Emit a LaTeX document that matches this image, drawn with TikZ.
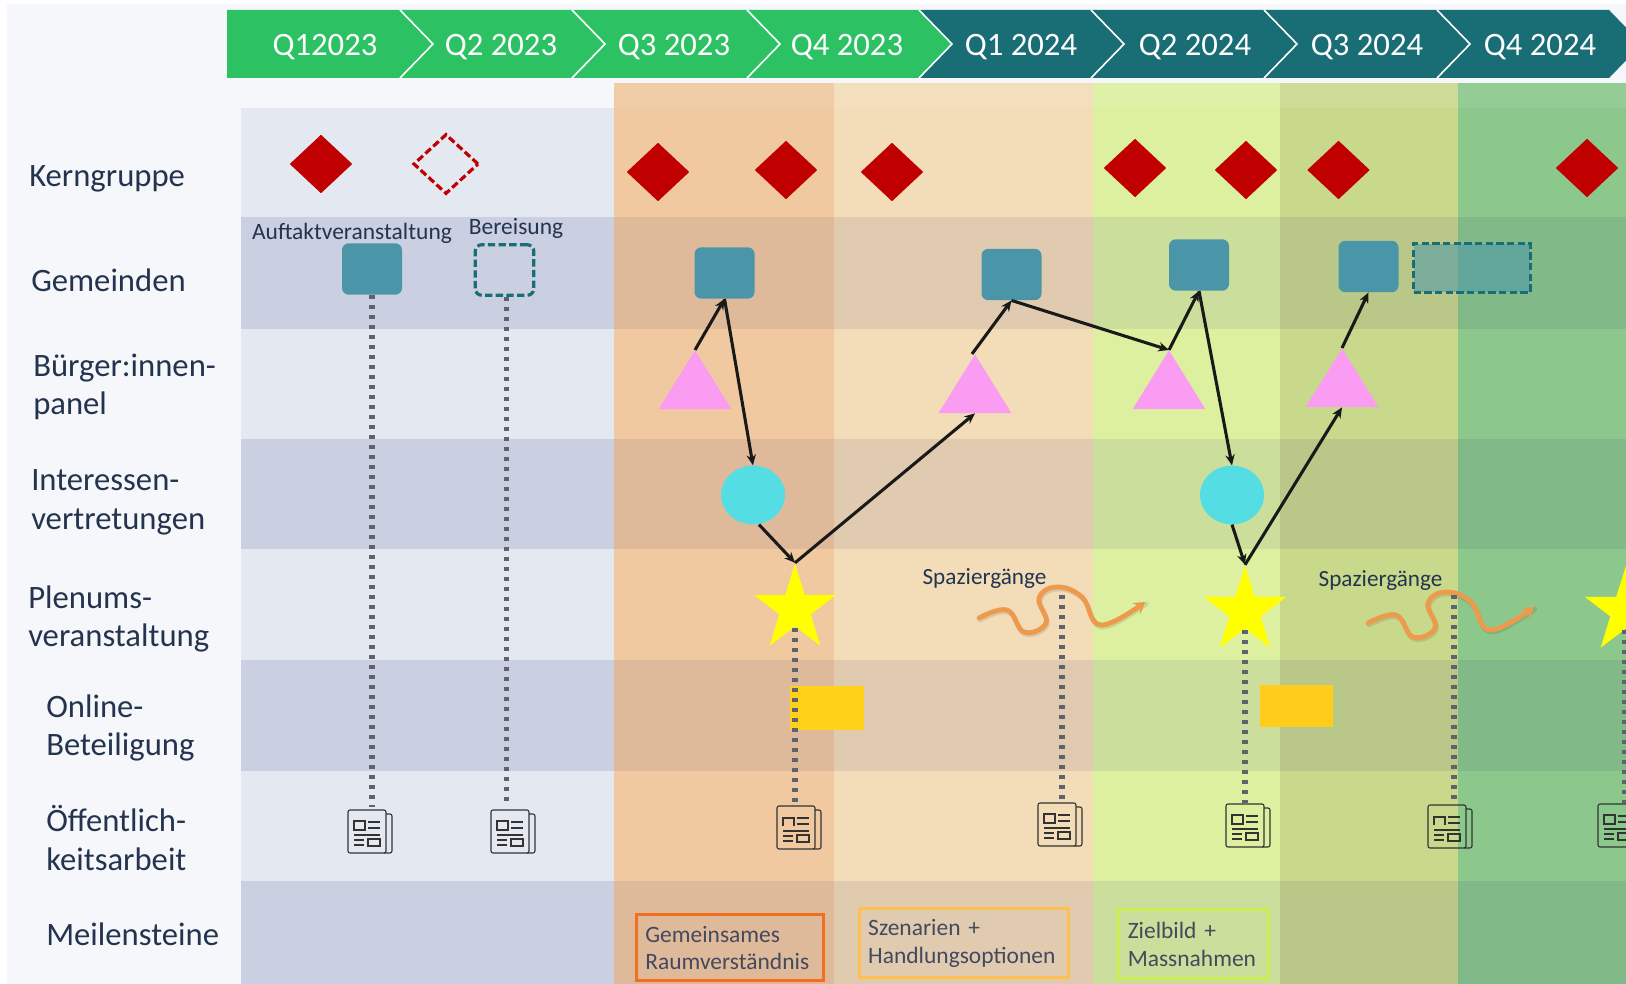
\documentclass[tikz,border=0pt]{standalone}
\usepackage{fontspec}
\setmainfont{Carlito}
\usetikzlibrary{shapes.geometric,arrows.meta}
\definecolor{outerbg}{HTML}{F5F7FA}
\definecolor{rowlight}{HTML}{E4E8F1}
\definecolor{rowdark}{HTML}{CBCFE2}
\definecolor{colA}{HTML}{F0C9A0}
\definecolor{colB}{HTML}{F3DCB8}
\definecolor{colC}{HTML}{DDF0A0}
\definecolor{colD}{HTML}{C8D98C}
\definecolor{colE}{HTML}{8CC88C}
\definecolor{chevgreen}{HTML}{2CC264}
\definecolor{chevteal}{HTML}{196D74}
\definecolor{kernred}{HTML}{C00000}
\definecolor{sqteal}{HTML}{4A96A8}
\definecolor{pinkt}{HTML}{F99CF2}
\definecolor{cyanc}{HTML}{55DDE4}
\definecolor{walkor}{HTML}{EE9A4D}
\definecolor{ink}{HTML}{24344F}
\definecolor{msink}{HTML}{45495E}
\definecolor{staryel}{HTML}{FFFF00}
\definecolor{dotgrey}{HTML}{5E626C}
\tikzset{
  x=0.75pt,y=-0.75pt,
  chevlabel/.style={text=white,font=\fontsize{24.5}{29}\selectfont,inner sep=0},
  rowlabel/.style={anchor=west,align=left,text=ink,font=\fontsize{24.5}{29}\selectfont,inner sep=0},
  smalllabel/.style={text=ink,font=\fontsize{17.6}{21}\selectfont,inner sep=0},
  walklabel/.style={text=ink,font=\fontsize{17.4}{21}\selectfont,inner sep=0},
  kern/.style={diamond,aspect=1,fill=kernred,inner sep=0,minimum width=47pt,minimum height=44pt},
  kerndash/.style={diamond,aspect=1,draw=kernred,line width=2.4pt,dash pattern=on 5.5pt off 2.5pt,inner sep=0,minimum width=49pt,minimum height=45pt},
  gem/.style={rectangle,rounded corners=5pt,fill=sqteal,inner sep=0,minimum width=45pt,minimum height=38.5pt},
  gemdash/.style={rectangle,rounded corners=5pt,draw=chevteal,line width=2.4pt,dash pattern=on 5.5pt off 2.5pt,inner sep=0,minimum width=44pt,minimum height=38pt},
  bar/.style={rectangle,draw=chevteal,fill=sqteal,fill opacity=.55,line width=2.4pt,dash pattern=on 5.5pt off 2.5pt,inner sep=0,minimum width=87.5pt,minimum height=36.5pt},
  panel/.style={regular polygon,regular polygon sides=3,fill=pinkt,inner sep=0,minimum size=63pt,anchor=corner 1,transform shape,yscale=.93},
  intr/.style={ellipse,fill=cyanc,inner sep=0,minimum width=48pt,minimum height=44pt},
  plen/.style={star,star points=5,star point ratio=2.6,fill=staryel,inner sep=0,minimum size=68pt,transform shape,xscale=.95},
  online/.style={rectangle,inner sep=0,anchor=north west},
  docbox/.style={rectangle,inner sep=0,minimum width=33pt,minimum height=32pt,anchor=north west},
  stone/.style={rectangle,anchor=north west,align=left,text=msink,line width=2.6pt,inner xsep=0,inner ysep=0,font=\fontsize{17.6}{21}\selectfont},
  flow/.style={-{Stealth[length=8pt,width=7pt]},line width=2.3pt,draw=black!90},
  dots/.style={draw=dotgrey,line width=3.8pt,dash pattern=on 3.2pt off 4.3pt},
  walk/.style={draw=walkor,line width=3.6pt,line cap=round,-{Stealth[length=8pt,width=10pt]}},
  walkshade/.style={draw=black,opacity=.1,line width=3.6pt,line cap=round},
  newsink/.style={draw=black!80,line width=.8pt},
  newsbase/.pic={
    \draw[newsink,rounded corners=1.5pt] (0,0) rectangle (38,43);
    \draw[newsink,rounded corners=1.5pt] (38,4) -- (44,4) -- (44,43) -- (36,43);
    \draw[newsink] (6,25) -- (32,25) (6,30) -- (16,30) (6,35) -- (16,35);
    \draw[newsink] (20,29) rectangle (32,36);
    \draw[newsink] (20,12) -- (32,12) (20,18) -- (32,18);
  },
  newsA/.pic={
    \pic {newsbase};
    \draw[newsink] (6,11) rectangle (17,20);
  },
  newsB/.pic={
    \pic {newsbase};
    \draw[newsink] (6,20) -- (6,12) -- (17,12) -- (17,20);
  }
}
\begin{document}
\begin{tikzpicture}
\useasboundingbox (0,0) rectangle (1626,984);
\clip (0,0) rectangle (1626,984);
\fill[outerbg] (7,4) rectangle (1626,984);
% rows, left part
\fill[rowlight] (241,108) rectangle (614,217);
\fill[rowdark]  (241,217) rectangle (614,329);
\fill[rowlight] (241,329) rectangle (614,439);
\fill[rowdark]  (241,439) rectangle (614,549);
\fill[rowlight] (241,549) rectangle (614,660);
\fill[rowdark]  (241,660) rectangle (614,771);
\fill[rowlight] (241,771) rectangle (614,881);
\fill[rowdark]  (241,881) rectangle (614,984);
% phase columns
\fill[colA] (614,83) rectangle (834,984);
\fill[colB] (834,83) rectangle (1093,984);
\fill[colC] (1093,83) rectangle (1280,984);
\fill[colD] (1280,83) rectangle (1458,984);
\fill[colE] (1458,83) rectangle (1626,984);
\fill[white,opacity=.08] (614,83) rectangle (1626,108);
\foreach \ya/\yb in {217/329,439/549,660/771,881/984}{
  \fill[black!60!blue,opacity=.075] (614,\ya) rectangle (1626,\yb);
}
% chevrons
\fill[chevteal] (919,10) -- (1609,10) -- (1642,44) -- (1609,78) -- (919,78) -- cycle;
\fill[chevgreen] (227,10) -- (919,10) -- (952,44) -- (919,78) -- (227,78) -- cycle;
\foreach \xc in {400,572,747,919,1091,1264,1437}{
  \draw[white,line width=1.2pt] (\xc,10) -- ({\xc+33},44) -- (\xc,78);
}
\node[chevlabel] (q1) at (325,47) {Q12023};
\node[chevlabel] (q2) at (501,47) {Q2 2023};
\node[chevlabel] (q3) at (674,47) {Q3 2023};
\node[chevlabel] (q4) at (847,47) {Q4 2023};
\node[chevlabel] (q5) at (1021,47) {Q1 2024};
\node[chevlabel] (q6) at (1195,47) {Q2 2024};
\node[chevlabel] (q7) at (1367,47) {Q3 2024};
\node[chevlabel] (q8) at (1540,47) {Q4 2024};
% row labels
\node[rowlabel] (l1) at (29,179) {Kerngruppe};
\node[rowlabel] (l2) at (31,280) {Gemeinden};
\node[rowlabel] (l3) at (33,387) {Bürger:innen-\\panel};
\node[rowlabel] (l4) at (31,502) {Interessen-\\vertretungen};
\node[rowlabel] (l5) at (28,619) {Plenums-\\veranstaltung};
\node[rowlabel] (l6) at (46,728) {Online-\\Beteiligung};
\node[rowlabel] (l7) at (46,838) {Öffentlich-\\keitsarbeit};
\node[rowlabel] (l8) at (46,934) {Meilensteine};
% Kerngruppe
\node[kern] (k1) at (321,164) {};
\node[kerndash] (k2) at (446,164) {};
\node[kern] (k3) at (658,172) {};
\node[kern] (k4) at (786,170) {};
\node[kern] (k5) at (892,172) {};
\node[kern] (k6) at (1135,168) {};
\node[kern] (k7) at (1246,170) {};
\node[kern] (k8) at (1338.5,170) {};
\node[kern] (k9) at (1587,168) {};
% Gemeinden
\node[smalllabel] (a1) at (352,233) {Auftaktveranstaltung};
\node[smalllabel] (a2) at (516,228) {Bereisung};
\node[gem] (s1) at (372,269) {};
\node[gemdash] (s2) at (504.5,270) {};
\node[gem] (s3) at (724.5,273) {};
\node[gem] (s4) at (1011.5,274.5) {};
\node[gem] (s5) at (1199,265) {};
\node[gem] (s6) at (1368.5,266.5) {};
\node[bar] (s7) at (1472,268) {};
% panel
\node[panel] (t1) at (695,350) {};
\node[panel] (t2) at (975,354) {};
\node[panel] (t3) at (1169,350) {};
\node[panel] (t4) at (1342,348) {};
% Interessen
\node[intr] (c1) at (753,495) {};
\node[intr] (c2) at (1232,495) {};
% stars
\node[plen] (p1) at (795,609) {};
\node[plen] (p2) at (1245,611) {};
\node[plen] (p3) at (1626,611) {};
% walks
\begin{scope}[shift={(1,2)}]
\draw[walkshade] plot[smooth,tension=.7] coordinates {(979,618) (1007,610) (1024,632) (1046,623) (1039,598) (1057,587) (1082,597) (1101,625) (1145,602)};
\draw[walkshade] plot[smooth,tension=.7] coordinates {(1368,623) (1396,615) (1413,637) (1435,628) (1428,603) (1446,592) (1471,602) (1490,630) (1534,607)};
\end{scope}
\draw[walk] plot[smooth,tension=.7] coordinates {(979,618) (1007,610) (1024,632) (1046,623) (1039,598) (1057,587) (1082,597) (1101,625) (1145,602)};
\draw[walk] plot[smooth,tension=.7] coordinates {(1368,623) (1396,615) (1413,637) (1435,628) (1428,603) (1446,592) (1471,602) (1490,630) (1534,607)};
\node[walklabel] (w1) at (984.5,579) {Spaziergänge};
\node[walklabel] (w2) at (1380.5,581) {Spaziergänge};
% online
\node[online,fill={rgb,255:red,255;green,210;blue,26},minimum width=55.5pt,minimum height=33pt] (o1) at (790,686) {};
\node[online,fill={rgb,255:red,255;green,205;blue,26},minimum width=54.75pt,minimum height=31.5pt] (o2) at (1260,685) {};
% documents
\node[docbox] (d1) at (348,810) {};
\node[docbox] (d2) at (491,810) {};
\node[docbox] (d3) at (777,806) {};
\node[docbox] (d4) at (1038,803) {};
\node[docbox] (d5) at (1226,804) {};
\node[docbox] (d6) at (1428,805) {};
\node[docbox] (d7) at (1598,804) {};
\pic at (d1.north west) {newsA};
\pic at (d2.north west) {newsA};
\pic at (d3.north west) {newsB};
\pic at (d4.north west) {newsA};
\pic at (d5.north west) {newsA};
\pic at (d6.north west) {newsB};
\pic at (d7.north west) {newsA};
% dotted links
\coordinate (b1) at (795,628);
\coordinate (b2) at (1062,595);
\coordinate (b3) at (1245,630);
\coordinate (b4) at (1454,595);
\coordinate (b5) at (1625,630);
\draw[dots,shorten >=2.5pt] (s1.south) -- (s1.south |- d1.north);
\draw[dots,shorten >=2.5pt] (s2.south) ++(2,0) coordinate (s2b) -- (s2b |- d2.north);
\draw[dots,shorten >=2.5pt] (b1) -- (b1 |- d3.north);
\draw[dots,shorten >=2.5pt] (b2) -- (b2 |- d4.north);
\draw[dots,shorten >=1pt] (b3) -- (b3 |- d5.north);
\draw[dots,shorten >=1pt] (b4) -- (b4 |- d6.north);
\draw[dots,shorten >=1pt] (b5) -- (b5 |- d7.north);
% process arrows
\draw[flow] (t1.corner 1) -- (s3.south);
\draw[flow] (s3.south) -- (c1.north);
\draw[flow] (c1.south) ++(6,0) coordinate (c1b) -- (p1.outer point 1);
\draw[flow] (p1.outer point 1) -- (t2.side 2);
\draw[flow] (t2.corner 1) ++(-3,0) coordinate (t2a) -- (s4.south);
\draw[flow] (s4.south) -- (t3.corner 1);
\draw[flow] (t3.corner 1) -- (s5.south);
\draw[flow] (s5.south) -- (c2.north);
\draw[flow] (c2.south) -- (p2.outer point 1);
\draw[flow] (p2.outer point 1) -- (t4.side 2);
\draw[flow] (t4.corner 1) -- (s6.south);
% milestones
\node[stone,draw={rgb,255:red,240;green,112;blue,32},minimum width=140pt,minimum height=49.5pt,text width=132pt] (m1) at (635,913) {\hspace*{2.5pt}Gemeinsames\\[-.5pt]\hspace*{2.5pt}Raumverständnis};
\node[stone,draw={rgb,255:red,255;green,192;blue,77},minimum width=156.75pt,minimum height=51.75pt,text width=150pt] (m2) at (858,907) {\hspace*{3pt}Szenarien +\\\hspace*{3pt}Handlungsoptionen};
\node[stone,draw={rgb,255:red,204;green,240;blue,80},minimum width=112.5pt,minimum height=51.75pt,text width=105pt] (m3) at (1117,908) {\hspace*{3pt}Zielbild +\\\hspace*{3pt}Massnahmen};
\end{tikzpicture}
\end{document}
